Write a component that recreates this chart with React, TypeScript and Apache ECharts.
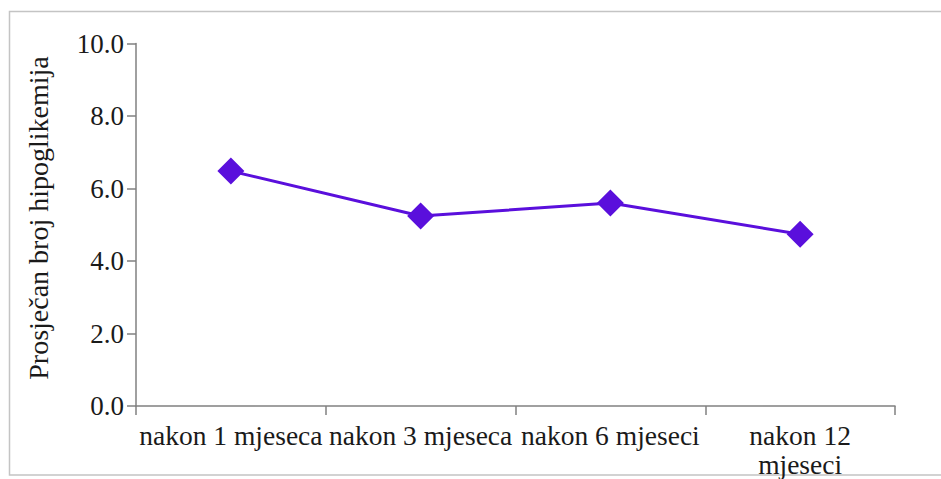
import React, { useEffect, useRef } from "react";
import * as echarts from "echarts";

const categories = ["nakon 1 mjeseca", "nakon 3 mjeseca", "nakon 6 mjeseci", "nakon 12\nmjeseci"];
const values = [6.48, 5.24, 5.6, 4.74];
const yAxisName = "Prosječan broj hipoglikemija";

export default function App() {
  const ref = useRef<HTMLDivElement>(null);
  useEffect(() => {
    if (!ref.current) return;
    const chart = echarts.init(ref.current, undefined, { renderer: "svg" });
    const font = "Liberation Serif";
    chart.setOption({
      animation: false,
      backgroundColor: "#ffffff",
      graphic: [
        {
          type: "rect",
          shape: { x: 9.5, y: 11.5, width: 945, height: 463.5 },
          style: { fill: "none", stroke: "#c4c4c4", lineWidth: 1.5 },
          silent: true,
          z: -10,
        },
        {
          type: "text",
          x: 38,
          y: 218,
          rotation: Math.PI / 2,
          style: {
            text: yAxisName,
            fontSize: 28,
            fontFamily: font,
            fill: "#1a1a1a",
            align: "center",
            verticalAlign: "middle",
          },
        },
      ],
      grid: { left: 136, right: 46, top: 43.5, bottom: 71.7 },
      xAxis: {
        type: "category",
        data: categories,
        boundaryGap: true,
        axisLine: { lineStyle: { color: "#808080", width: 1.5 } },
        axisTick: { show: true, length: 9, lineStyle: { color: "#808080", width: 1.5 } },
        axisLabel: {
          interval: 0,
          margin: 15,
          fontSize: 27.5,
          fontFamily: font,
          color: "#1a1a1a",
          lineHeight: 29,
        },
      },
      yAxis: {
        type: "value",
        min: 0,
        max: 10,
        interval: 2,
        splitLine: { show: false },
        axisLine: { show: true, lineStyle: { color: "#808080", width: 1.5 } },
        axisTick: { show: true, length: 9, lineStyle: { color: "#808080", width: 1.5 } },
        axisLabel: {
          margin: 12,
          fontSize: 27,
          fontFamily: font,
          color: "#1a1a1a",
          formatter: (v: number) => v.toFixed(1),
        },
      },
      series: [
        {
          type: "line",
          data: values,
          symbol: "diamond",
          symbolSize: 27,
          lineStyle: { color: "#5a0fdc", width: 3 },
          itemStyle: { color: "#5a0fdc" },
        },
      ],
    });
    return () => chart.dispose();
  }, []);
  return (
    <div
      ref={ref}
      style={{ position: "fixed", left: 0, top: 0, width: 941, height: 479 }}
    />
  );
}
